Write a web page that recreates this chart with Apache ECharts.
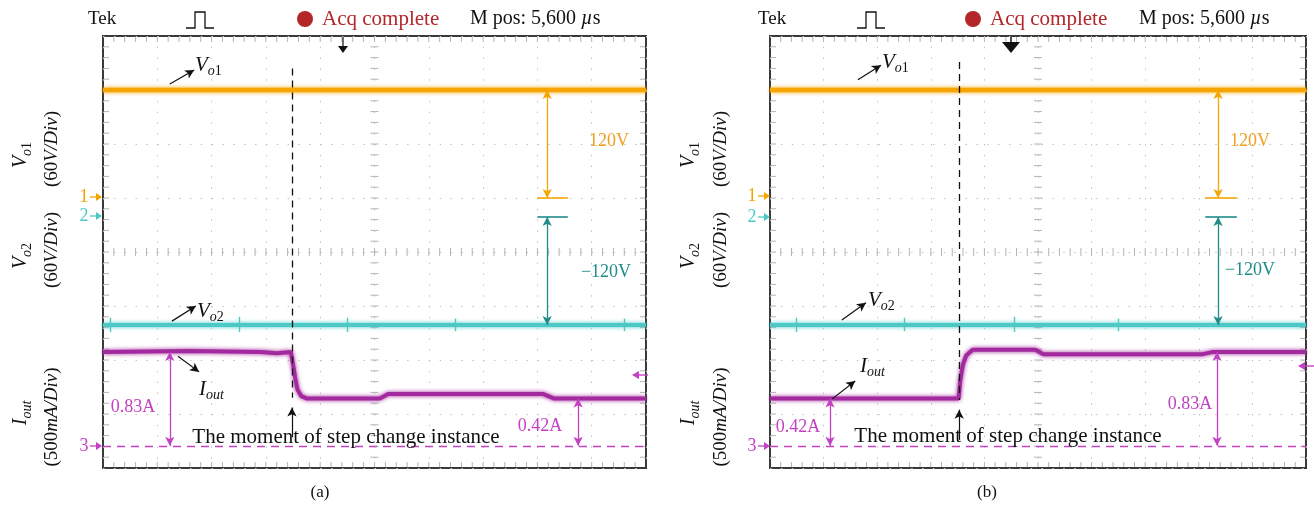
<!DOCTYPE html>
<html>
<head>
<meta charset="utf-8">
<script src="https://cdn.jsdelivr.net/npm/echarts@6/dist/echarts.min.js"></script>
<style>
html,body{margin:0;padding:0;background:#fff;}
#chart{width:1314px;height:511px;}
</style>
</head>
<body>
<div id="chart"></div>
<script>
// ---- captured waveforms (time in screen divisions, 10 div across) ----
// panel (a): load step down
const vo1A = [[0,120],[10,120]];
const vo2A = [[0,-120],[10,-120]];
const vo2SpikesA = [[0.13,-112,-128],[2.5,-111,-128],[4.49,-112,-128],[6.48,-113,-127],[9.6,-113,-127]];
const ioutA = [[0,0.83],[1.6,0.84],[2.9,0.83],[3.2,0.82],[3.46,0.83],[3.5,0.72],[3.54,0.6],[3.58,0.5],[3.65,0.44],
               [3.75,0.42],[5.1,0.42],[5.25,0.46],[8.1,0.46],[8.3,0.42],[10,0.42]];
const stepA = 3.48;

// panel (b): load step up
const vo1B = [[0,120],[10,120]];
const vo2B = [[0,-120],[10,-120]];
const vo2SpikesB = [[0.49,-112,-128],[2.5,-112,-127],[4.55,-111,-128],[6.5,-113,-127]];
const ioutB = [[0,0.42],[3.52,0.42],[3.55,0.58],[3.6,0.72],[3.66,0.8],[3.78,0.85],[4.95,0.85],[5.1,0.81],
               [8.05,0.81],[8.25,0.83],[10,0.83]];
const stepB = 3.53;

// measured levels written on the screenshots
const dV1 = 120, dV2 = -120;
const iHigh = 0.83, iLow = 0.42;

// channel settings: ground marker position (div from bottom) and units per division
const ch1 = {zero:5.0, perDiv:60};
const ch2 = {zero:4.65, perDiv:60};
const ch3 = {zero:0.41, perDiv:0.478};

const FONT = "'Liberation Serif','Times New Roman',serif";
const ORANGE = '#f5a400', ORANGE_T = '#f0a020';
const CYAN = '#4cc9c6', TEAL = '#1f8c8a';
const PURPLE = '#a32a9e', MAGENTA = '#c341c3';
const RED = '#b3262a';

function chAxis(g, ch){
  return {gridIndex:g, type:'value', show:false, min:-ch.zero*ch.perDiv, max:(8-ch.zero)*ch.perDiv};
}
function xAx(g){
  return {gridIndex:g, type:'value', min:0, max:10, interval:1,
    axisLine:{show:false}, axisTick:{show:false}, axisLabel:{show:false},
    splitLine:{show:true, lineStyle:{color:'#c2c2c2', width:1, type:[1.5,9.3]}}};
}
function gratY(g){
  return {gridIndex:g, type:'value', min:0, max:8, interval:1,
    axisLine:{show:false}, axisTick:{show:false}, axisLabel:{show:false},
    splitLine:{show:true, lineStyle:{color:'#c2c2c2', width:1, type:[1.5,9.36]}}};
}

function arrow(p1, p2, s1, s2, style){
  const a = {coord:p1, symbol:s1};
  const b = {coord:p2, symbol:s2};
  if (style) a.lineStyle = style;
  return [a, b];
}
function markLines(data, color, width){
  return {silent:true, animation:false, symbolSize:[7,9], label:{show:false},
    emphasis:{disabled:true}, lineStyle:{color:color, width:width, type:'solid'}, data:data};
}

// oscilloscope graticule: centre-cross ticks and border ticks every 1/5 division
function graticule(xi, yi, marks){
  return {
    type:'custom', xAxisIndex:xi, yAxisIndex:yi, silent:true, z:1, animation:false,
    data:[[0,0]],
    renderItem:function(params, api){
      const c = '#b4b4b4';
      const out = [];
      const seg = (p,a,b,cc,d) => ({type:'line', shape:{x1:p[0]+a,y1:p[1]+b,x2:p[0]+cc,y2:p[1]+d}, style:{stroke:c,lineWidth:1}});
      for (let k=1;k<50;k++){
        const x = k/5;
        out.push(seg(api.coord([x,4]),0,-4,0,4));
        out.push(seg(api.coord([x,8]),0,1,0,6));
        out.push(seg(api.coord([x,0]),0,-6,0,-1));
      }
      for (let k=1;k<40;k++){
        const y = k/5;
        out.push(seg(api.coord([5,y]),-4,0,4,0));
        out.push(seg(api.coord([0,y]),1,0,6,0));
        out.push(seg(api.coord([10,y]),-6,0,-1,0));
      }
      return {type:'group', children:out};
    },
    markLine: marks
  };
}

function trace(name, xi, yi, data, color, width, marks){
  return {name:name, type:'line', xAxisIndex:xi, yAxisIndex:yi, data:data, showSymbol:false, symbol:'none',
    animation:false, silent:true, z:3,
    lineStyle:{color:color, width:width, shadowColor:color, shadowBlur:4}, markLine:marks};
}

const dashStyle = {color:'#111', width:1.3, type:[7,5]};

function spikeLines(spikes){
  return spikes.map(s => arrow([s[0], s[1]], [s[0], s[2]], 'none', 'none', {color:CYAN, width:1.4}));
}

function panelSeries(g, d){
  const xi = g, y0 = g*4;
  return [
    graticule(xi, y0, markLines([
      arrow([d.step, d.stepTop], [d.step, d.stepBot], 'none', 'none', dashStyle),
      arrow([d.step, d.stepArrow[0]], [d.step, d.stepArrow[1]], 'none', 'arrow'),
      arrow(d.pV1[0], d.pV1[1], 'none', 'arrow'),
      arrow(d.pV2[0], d.pV2[1], 'none', 'arrow'),
      arrow(d.pI[0], d.pI[1], 'none', 'arrow')
    ], '#111', 1.2)),
    trace('Vo1', xi, y0+1, d.vo1, ORANGE, 4.5, markLines([
      arrow([d.mx, 0], [d.mx, dV1], 'arrow', 'arrow'),
      arrow([d.bar[0], 0], [d.bar[1], 0], 'none', 'none', {color:ORANGE, width:1.6})
    ], ORANGE, 1.3)),
    trace('Vo2', xi, y0+2, d.vo2, CYAN, 4, markLines([
      arrow([d.mx, 0], [d.mx, dV2], 'arrow', 'arrow'),
      arrow([d.bar[0], 0], [d.bar[1], 0], 'none', 'none', {color:TEAL, width:1.6})
    ].concat(spikeLines(d.spikes)), TEAL, 1.3)),
    trace('Iout', xi, y0+3, d.iout, PURPLE, 4, markLines([
      arrow([0, 0], [10, 0], 'none', 'none', {color:MAGENTA, width:1.3, type:[8,6]}),
      arrow([d.xHigh, 0], [d.xHigh, iHigh], 'arrow', 'arrow'),
      arrow([d.xLow, 0], [d.xLow, iLow], 'arrow', 'arrow')
    ], MAGENTA, 1.3))
  ];
}

const series = [].concat(
  panelSeries(0, {vo1:vo1A, vo2:vo2A, spikes:vo2SpikesA, iout:ioutA, step:stepA, stepTop:7.4, stepBot:1.3, stepArrow:[0.57,1.12],
    pV1:[[1.23,7.11],[1.68,7.37]], pV2:[[1.27,2.72],[1.71,3.0]], pI:[[1.38,2.07],[1.77,1.78]],
    mx:8.18, bar:[8.0,8.56], xHigh:1.23, xLow:8.75}),
  panelSeries(1, {vo1:vo1B, vo2:vo2B, spikes:vo2SpikesB, iout:ioutB, step:stepB, stepTop:7.52, stepBot:1.26, stepArrow:[0.52,1.08],
    pV1:[[1.64,7.19],[2.07,7.46]], pV2:[[1.34,2.74],[1.79,3.06]], pI:[[1.16,1.28],[1.59,1.61]],
    mx:8.36, bar:[8.12,8.71], xHigh:8.34, xLow:1.12})
);

// ---- text and screen furniture ----
function txt(x, y, text, color, size, align, extra){
  const st = {text:text, fill:color, font:size+'px '+FONT, align:align||'center', verticalAlign:'middle'};
  return Object.assign({type:'text', x:x, y:y, silent:true, z:10, style:st}, extra||{});
}
function rich(x, y, text, color, size, align, rot){
  const sub = Math.round(size*0.68);
  const st = {text:text, fill:color, align:align||'center', verticalAlign:'middle',
    rich:{
      vi:{fontFamily:FONT, fontSize:size, fontStyle:'italic', fill:color, lineHeight:size+6, verticalAlign:'middle'},
      n:{fontFamily:FONT, fontSize:size, fill:color, lineHeight:size+6, verticalAlign:'middle'},
      i:{fontFamily:FONT, fontSize:size, fontStyle:'italic', fill:color, lineHeight:size+6, verticalAlign:'middle'},
      si:{fontFamily:FONT, fontSize:sub, fontStyle:'italic', fill:color, lineHeight:sub, verticalAlign:'bottom'},
      s:{fontFamily:FONT, fontSize:sub, fill:color, lineHeight:sub, verticalAlign:'bottom'}
    }};
  return {type:'text', x:x, y:y, rotation:rot||0, silent:true, z:10, style:st};
}
function poly(points, color){
  return {type:'polygon', silent:true, z:10, shape:{points:points}, style:{fill:color}};
}
function line(x1,y1,x2,y2,color,w){
  return {type:'line', silent:true, z:10, shape:{x1:x1,y1:y1,x2:x2,y2:y2}, style:{stroke:color, lineWidth:w||1.2}};
}
function chanMark(x, y, label, color){
  return [txt(x, y, label, color, 18, 'center'), line(x+6, y, x+14, y, color, 1.3),
          poly([[x+12,y-4],[x+18,y],[x+12,y+4]], color)];
}
function header(p){
  return [
    txt(p.tek, 19, 'Tek', '#111', 19, 'left'),
    {type:'polyline', silent:true, shape:{points:[[p.pulse,28],[p.pulse+9,28],[p.pulse+9,12],[p.pulse+19,12],[p.pulse+19,28],[p.pulse+28,28]]},
      style:{stroke:'#111', lineWidth:1.3, fill:null}},
    {type:'circle', silent:true, shape:{cx:p.dot, cy:19, r:8}, style:{fill:RED}},
    txt(p.dot+17, 19, 'Acq complete', RED, 21, 'left'),
    rich(p.mpos, 19, '{n|M pos: 5,600 }{i|\u00b5}{n|s}', '#111', 20, 'left')
  ];
}
function sideLabels(x1, x2){
  const r = Math.PI/2;
  return [
    rich(x1, 155, '{vi|V}{si|o}{s|1}', '#111', 20, 'center', r),
    rich(x2, 149, '{n|(60}{i|V/Div}{n|)}', '#111', 19, 'center', r),
    rich(x1, 256, '{vi|V}{si|o}{s|2}', '#111', 20, 'center', r),
    rich(x2, 250, '{n|(60}{i|V/Div}{n|)}', '#111', 19, 'center', r),
    rich(x1, 413, '{vi|I}{si|out}', '#111', 20, 'center', r),
    rich(x2, 417, '{n|(500}{i|mA/Div}{n|)}', '#111', 19, 'center', r)
  ];
}

const graphics = [].concat(
  header({tek:88, pulse:186, dot:305, mpos:470}),
  header({tek:758, pulse:857, dot:973, mpos:1139}),
  sideLabels(21, 52),
  sideLabels(689, 721),
  chanMark(84, 197, '1', ORANGE), chanMark(84, 216, '2', CYAN), chanMark(84, 446, '3', MAGENTA),
  chanMark(752, 196, '1', ORANGE), chanMark(752, 217, '2', CYAN), chanMark(752, 446, '3', MAGENTA),
  // trigger position markers
  [line(343, 37, 343, 48, '#111', 1.2), poly([[338,46],[348,46],[343,53]], '#111')],
  [line(1011, 37, 1011, 43, '#111', 1.5), poly([[1002,42],[1020,42],[1011,53]], '#111')],
  // reference-level markers on the right edge
  [line(636, 375, 648, 375, MAGENTA, 1.4), poly([[632,375],[639,371],[639,379]], MAGENTA)],
  [line(1302, 366, 1314, 366, MAGENTA, 1.4), poly([[1298,366],[1305,362],[1305,370]], MAGENTA)],
  // trace names
  rich(195, 65, '{vi|V}{si|o}{s|1}', '#111', 21, 'left'),
  rich(197, 311, '{vi|V}{si|o}{s|2}', '#111', 21, 'left'),
  rich(199, 389, '{vi|I}{si|out}', '#111', 21, 'left'),
  rich(882, 62, '{vi|V}{si|o}{s|1}', '#111', 21, 'left'),
  rich(868, 300, '{vi|V}{si|o}{s|2}', '#111', 21, 'left'),
  rich(860, 366, '{vi|I}{si|out}', '#111', 21, 'left'),
  // measured values
  txt(609, 141, '120V', ORANGE_T, 18), txt(606, 272, '\u2212120V', TEAL, 18),
  txt(133, 407, '0.83A', MAGENTA, 18), txt(540, 426, '0.42A', MAGENTA, 18),
  txt(1250, 141, '120V', ORANGE_T, 18), txt(1250, 270, '\u2212120V', TEAL, 18),
  txt(1190, 404, '0.83A', MAGENTA, 18), txt(798, 427, '0.42A', MAGENTA, 18),
  txt(346, 437, 'The moment of step change instance', '#111', 21),
  txt(1008, 436, 'The moment of step change instance', '#111', 21),
  txt(320, 493, '(a)', '#111', 17),
  txt(987, 493, '(b)', '#111', 17)
);

const chart = echarts.init(document.getElementById('chart'), null, {renderer:'canvas'});
chart.setOption({
  animation:false,
  backgroundColor:'#fff',
  grid:[
    {left:103, top:36, width:543, height:432, show:true, borderColor:'#3a3a3a', borderWidth:2, containLabel:false},
    {left:770, top:36, width:536, height:432, show:true, borderColor:'#3a3a3a', borderWidth:2, containLabel:false}
  ],
  xAxis:[xAx(0), xAx(1)],
  yAxis:[gratY(0), chAxis(0,ch1), chAxis(0,ch2), chAxis(0,ch3),
         gratY(1), chAxis(1,ch1), chAxis(1,ch2), chAxis(1,ch3)],
  series:series,
  graphic:graphics
});
</script>
</body>
</html>
